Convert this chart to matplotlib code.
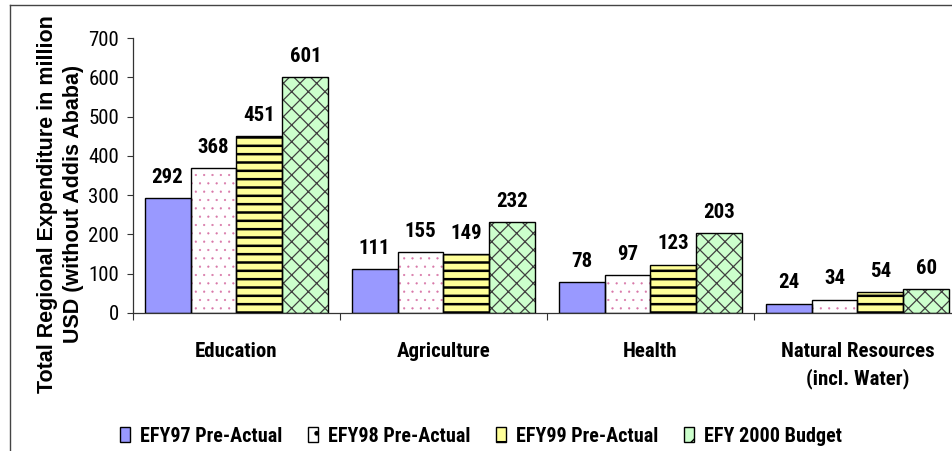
import matplotlib
matplotlib.use("Agg")
import matplotlib.pyplot as plt
from matplotlib import font_manager
from matplotlib.lines import Line2D
from matplotlib.patches import Patch
import numpy as np

categories = ["Education", "Agriculture", "Health", "Natural Resources\n(incl. Water)"]
series_names = ["EFY97 Pre-Actual", "EFY98 Pre-Actual", "EFY99 Pre-Actual", "EFY 2000 Budget"]
efy97 = [292, 111, 78, 24]
efy98 = [368, 155, 97, 34]
efy99 = [451, 149, 123, 54]
efy2000 = [601, 232, 203, 60]
y_ticks = [0, 100, 200, 300, 400, 500, 600, 700]
y_title_lines = ["Total Regional Expenditure in million", "USD (without Addis Ababa)"]


def pick_font(names):
    for n in names:
        try:
            font_manager.findfont(font_manager.FontProperties(family=n), fallback_to_default=False)
            return n
        except Exception:
            continue
    return "DejaVu Sans"


NARROW = pick_font(["Liberation Sans Narrow", "Arial Narrow", "Roboto Condensed",
                    "PT Sans Narrow", "Liberation Sans"])
WIDE = pick_font(["Liberation Sans", "Arial", "DejaVu Sans"])

# fill colour, hatch, hatch colour, hatch line width for each series
styles = [
    ("#9999FF", "", "#000000", 1.0),
    ("#FFFFFF", "..", "#D877A8", 0.35),
    ("#FFFF99", "--", "#000000", 1.8),
    ("#CCFFCC", "xx", "#404040", 0.9),
]

W, H = 953, 451
fig = plt.figure(figsize=(W / 100, H / 100), dpi=100)
ax = fig.add_axes([133 / W, 1 - 313 / H, (961 - 133) / W, (313 - 38) / H])

data = [efy97, efy98, efy99, efy2000]
x = np.arange(len(categories)) + 0.5
bw = 0.2222


def set_hatch_width(bars, lw):
    for p in bars:
        if hasattr(p, "set_hatch_linewidth"):
            p.set_hatch_linewidth(lw)


for i, vals in enumerate(data):
    fc, hatch, hc, hlw = styles[i]
    pos = x + (i - 1.5) * bw
    # fill
    ax.bar(pos, vals, bw, color=fc, linewidth=0, zorder=2)
    # hatch pattern
    if hatch:
        with plt.rc_context({"hatch.linewidth": hlw, "hatch.color": hc}):
            hb = ax.bar(pos, vals, bw, facecolor="none", edgecolor=hc, hatch=hatch,
                        linewidth=0, zorder=3)
            set_hatch_width(hb, hlw)
    # outline
    ax.bar(pos, vals, bw, facecolor="none", edgecolor="black", linewidth=1.0, zorder=4)
    for px, v in zip(pos, vals):
        ax.annotate(str(v), (px, v), xytext=(0, 11), textcoords="offset points",
                    ha="center", va="baseline", fontsize=15, fontweight="bold",
                    family=NARROW, zorder=5)

ax.set_xlim(0, len(categories))
ax.set_ylim(0, 700)
ax.set_yticks(y_ticks)
ax.set_yticklabels([str(t) for t in y_ticks], family=NARROW, fontsize=15)
ax.tick_params(axis="y", direction="out", length=4, width=0.8, pad=6, color="#333333")

ax.set_xticks(np.arange(len(categories) + 1))
ax.set_xticklabels([])
ax.set_xticks(x, minor=True)
ax.set_xticklabels(categories, minor=True, family=NARROW, fontsize=15,
                   fontweight="bold", linespacing=1.45, va="top")
ax.tick_params(axis="x", which="major", direction="out", length=5, width=0.8, color="#333333")
ax.tick_params(axis="x", which="minor", length=0, pad=21)

for s in ["top", "right"]:
    ax.spines[s].set_visible(False)
for s in ["left", "bottom"]:
    ax.spines[s].set_color("#333333")
    ax.spines[s].set_linewidth(0.9)

# two-line vertical axis title, each line anchored on its baseline
for line, bx in zip(y_title_lines, [53, 79]):
    fig.text(bx / W, 1 - 204 / H, line, rotation=90, rotation_mode="anchor",
             ha="center", va="baseline", fontsize=15.5, fontweight="bold", family=WIDE)

# legend
handles = []
for i in range(4):
    fc, hatch, hc, hlw = styles[i]
    handles.append(Patch(facecolor=fc, edgecolor="black", hatch=hatch[:1], linewidth=1.0))
fig.legend(handles, series_names, loc="center", bbox_to_anchor=(481 / W, 1 - 436 / H),
           ncol=4, frameon=False, handlelength=0.5, handleheight=0.8, handletextpad=0.5,
           columnspacing=1.25, prop={"family": NARROW, "size": 14.5, "weight": "bold"})

# frame lines around the chart area
fig.add_artist(Line2D([10 / W, 10 / W], [0, 1 - 5 / H], transform=fig.transFigure,
                      color="#444444", linewidth=1.0))
fig.add_artist(Line2D([10 / W, 1], [1 - 5 / H, 1 - 5 / H], transform=fig.transFigure,
                      color="#444444", linewidth=1.0))

fig.savefig("out.png", dpi=100)
